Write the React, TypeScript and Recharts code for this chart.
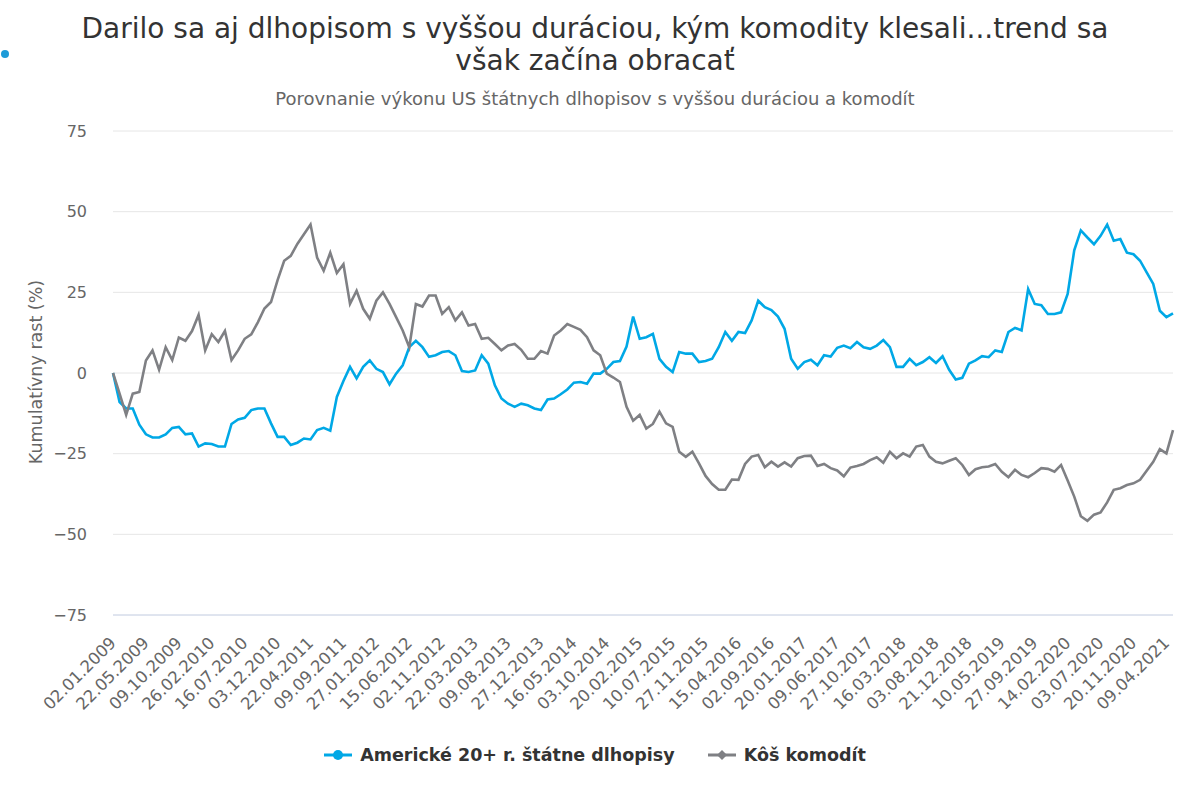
import React from 'react';
import { LineChart, Line, XAxis, YAxis, CartesianGrid } from 'recharts';

// 28-day steps starting 02.01.2009, one tick label every 5th point
const tickLabels = [
  '02.01.2009', '22.05.2009', '09.10.2009', '26.02.2010', '16.07.2010', '03.12.2010',
  '22.04.2011', '09.09.2011', '27.01.2012', '15.06.2012', '02.11.2012', '22.03.2013',
  '09.08.2013', '27.12.2013', '16.05.2014', '03.10.2014', '20.02.2015', '10.07.2015',
  '27.11.2015', '15.04.2016', '02.09.2016', '20.01.2017', '09.06.2017', '27.10.2017',
  '16.03.2018', '03.08.2018', '21.12.2018', '10.05.2019', '27.09.2019', '14.02.2020',
  '03.07.2020', '20.11.2020', '09.04.2021',
];

// Americké 20+ r. štátne dlhopisy (cumulative %)
const bonds = [
  0, -9, -11, -11, -16, -19, -20, -20, -19, -17,
  -16.7, -19, -18.7, -22.8, -21.8, -22, -22.8, -22.8, -15.8, -14.4,
  -13.9, -11.5, -11, -11, -15.6, -19.8, -19.8, -22.3, -21.6, -20.3,
  -20.6, -17.7, -17, -17.9, -7.4, -2.5, 1.9, -1.7, 1.9, 3.9,
  1.3, 0.3, -3.5, -0.2, 2.4, 8, 10, 8, 5, 5.5,
  6.5, 6.8, 5.5, 0.6, 0.3, 0.8, 5.5, 2.9, -3.8, -7.9,
  -9.5, -10.5, -9.5, -10, -11, -11.5, -8.2, -7.9, -6.6, -5.1,
  -3, -2.8, -3.3, -0.2, -0.2, 1.3, 3.4, 3.7, 8.2, 17.5,
  10.6, 11.1, 12.1, 4.4, 1.9, 0.3, 6.5, 6, 6, 3.4,
  3.7, 4.4, 8, 12.7, 10, 12.7, 12.4, 16.3, 22.4, 20.4,
  19.5, 17.5, 13.7, 4.4, 1.3, 3.4, 4.1, 2.4, 5.5, 5.1,
  7.8, 8.5, 7.7, 9.6, 8, 7.5, 8.5, 10.2, 8, 1.9,
  1.9, 4.4, 2.4, 3.4, 4.9, 3.1, 5.2, 1, -2, -1.5,
  2.9, 3.9, 5.2, 4.9, 7, 6.5, 12.7, 14, 13.2, 26,
  21.4, 21, 18.3, 18.3, 18.8, 24.5, 38, 44.2, 42, 39.9,
  42.5, 46, 41, 41.5, 37.3, 36.8, 34.8, 31.2, 27.6, 19.3,
  17.3, 18.5,
];

// Kôš komodít (cumulative %)
const commodities = [
  0, -6.4, -13, -6.4, -5.9, 3.9, 7, 1, 8, 4,
  11, 10, 13, 18, 7, 12, 9.6, 13, 4, 7,
  10.6, 12, 15.7, 20, 22, 28.8, 34.8, 36.3, 40, 43,
  46, 35.8, 31.7, 37.3, 31, 33.7, 21.4, 25.5, 19.9, 16.8,
  22.4, 25, 21.4, 17.3, 13.2, 8, 21.4, 20.6, 24, 24,
  18.3, 20.4, 16.3, 18.8, 14.7, 15.2, 10.6, 10.9, 9, 7,
  8.5, 9, 7.2, 4.4, 4.4, 6.8, 6, 11.6, 13.2, 15.2,
  14.3, 13.4, 11.1, 7, 5.5, -0.2, -1.4, -2.8, -10.5, -14.8,
  -13, -17.2, -15.8, -12, -15.6, -16.7, -24.4, -26, -24.4, -28,
  -31.9, -34.4, -36.2, -36.2, -33, -33.1, -28.2, -25.9, -25.4, -29.2,
  -27.5, -29, -27.7, -29, -26.4, -25.7, -25.6, -28.8, -28.2, -29.5,
  -30.2, -32, -29.3, -28.8, -28.2, -27, -26.1, -27.8, -24.4, -26.4,
  -24.9, -25.9, -22.8, -22.3, -25.9, -27.5, -28, -27.2, -26.4, -28.5,
  -31.6, -29.8, -29.2, -29, -28.2, -30.6, -32.3, -30, -31.6, -32.3,
  -31, -29.5, -29.7, -30.6, -28.5, -33.3, -38.3, -44.4, -45.8, -43.9,
  -43.2, -40.1, -36.2, -35.7, -34.7, -34.2, -33.1, -30.3, -27.5, -23.6,
  -24.9, -17.7,
];

const yTicks = [-75, -50, -25, 0, 25, 50, 75];

const BLUE = '#00a8e6';
const GRAY = '#7f8084';
const FONT = '"DejaVu Sans", Verdana, sans-serif';

const data = bonds.map((b, i) => ({ i, bonds: b, commodities: commodities[i] }));
const xTicks = tickLabels.map((_, k) => k * 5);

const XTick = (props: any) => {
  const { x, y, payload } = props;
  const label = tickLabels[payload.value / 5];
  const ax = x + 4;
  const ay = y + 29;
  return (
    <text
      x={ax}
      y={ay}
      transform={`rotate(-45 ${ax} ${ay})`}
      textAnchor="end"
      fill="#666666"
      fontSize={16.5}
      fontFamily={FONT}
    >
      {label}
    </text>
  );
};

const App = () => {
  return (
    <div style={{ position: 'absolute', left: 0, top: 0, width: 1190, height: 800, background: '#fff', fontFamily: FONT }}>
      <div style={{ position: 'absolute', left: 1, top: 50, width: 8, height: 8, borderRadius: 4, background: '#1d9bd8' }} />
      <div style={{ position: 'absolute', left: 0, top: 13, width: 1190, textAlign: 'center', fontSize: 28, lineHeight: '32px', color: '#333333' }}>
        Darilo sa aj dlhopisom s vyššou duráciou, kým komodity klesali...trend sa
        <br />
        však začína obracať
      </div>
      <div style={{ position: 'absolute', left: 0, top: 88, width: 1190, textAlign: 'center', fontSize: 18, color: '#666666' }}>
        Porovnanie výkonu US štátnych dlhopisov s vyššou duráciou a komodít
      </div>
      <div
        style={{
          position: 'absolute', left: 36, top: 372, transform: 'translate(-50%, -50%) rotate(-90deg)',
          whiteSpace: 'nowrap', fontSize: 17.5, color: '#666666',
        }}
      >
        Kumulatívny rast (%)
      </div>
      <div style={{ position: 'absolute', left: 0, top: 0 }}>
        <LineChart width={1190} height={800} data={data} margin={{ top: 131, right: 17, bottom: 0, left: 0 }}>
          <CartesianGrid vertical={false} stroke="#e6e6e6" />
          <XAxis
            type="number"
            dataKey="i"
            domain={[0, 161]}
            ticks={xTicks}
            interval={0}
            tick={<XTick />}
            tickLine={false}
            axisLine={{ stroke: '#ccd6eb' }}
            tickSize={0}
            tickMargin={0}
            height={185}
          />
          <YAxis
            domain={[-75, 75]}
            ticks={yTicks}
            interval={0}
            width={113}
            tickLine={false}
            axisLine={false}
            tickSize={0}
            tickMargin={26}
            tickFormatter={(v: number) => String(v).replace('-', '−')}
            tick={{ fill: '#666666', fontSize: 16, fontFamily: FONT }}
          />
          <Line
            type="linear"
            dataKey="bonds"
            name="Americké 20+ r. štátne dlhopisy"
            stroke={BLUE}
            strokeWidth={2.6}
            dot={false}
            isAnimationActive={false}
          />
          <Line
            type="linear"
            dataKey="commodities"
            name="Kôš komodít"
            stroke={GRAY}
            strokeWidth={2.6}
            dot={false}
            isAnimationActive={false}
          />
        </LineChart>
      </div>
      <div style={{ position: 'absolute', left: 0, top: 745, width: 1190, display: 'flex', justifyContent: 'center', alignItems: 'center', fontSize: 17.5, fontWeight: 'bold', color: '#333333' }}>
        <svg width={28} height={16} style={{ marginRight: 8 }}>
          <line x1={0} y1={8} x2={28} y2={8} stroke={BLUE} strokeWidth={3} />
          <circle cx={14} cy={8} r={5} fill={BLUE} />
        </svg>
        <span style={{ marginRight: 33 }}>Americké 20+ r. štátne dlhopisy</span>
        <svg width={28} height={16} style={{ marginRight: 8 }}>
          <line x1={0} y1={8} x2={28} y2={8} stroke={GRAY} strokeWidth={3} />
          <path d="M14 3 L19 8 L14 13 L9 8 Z" fill={GRAY} />
        </svg>
        <span>Kôš komodít</span>
      </div>
    </div>
  );
};

export default App;
